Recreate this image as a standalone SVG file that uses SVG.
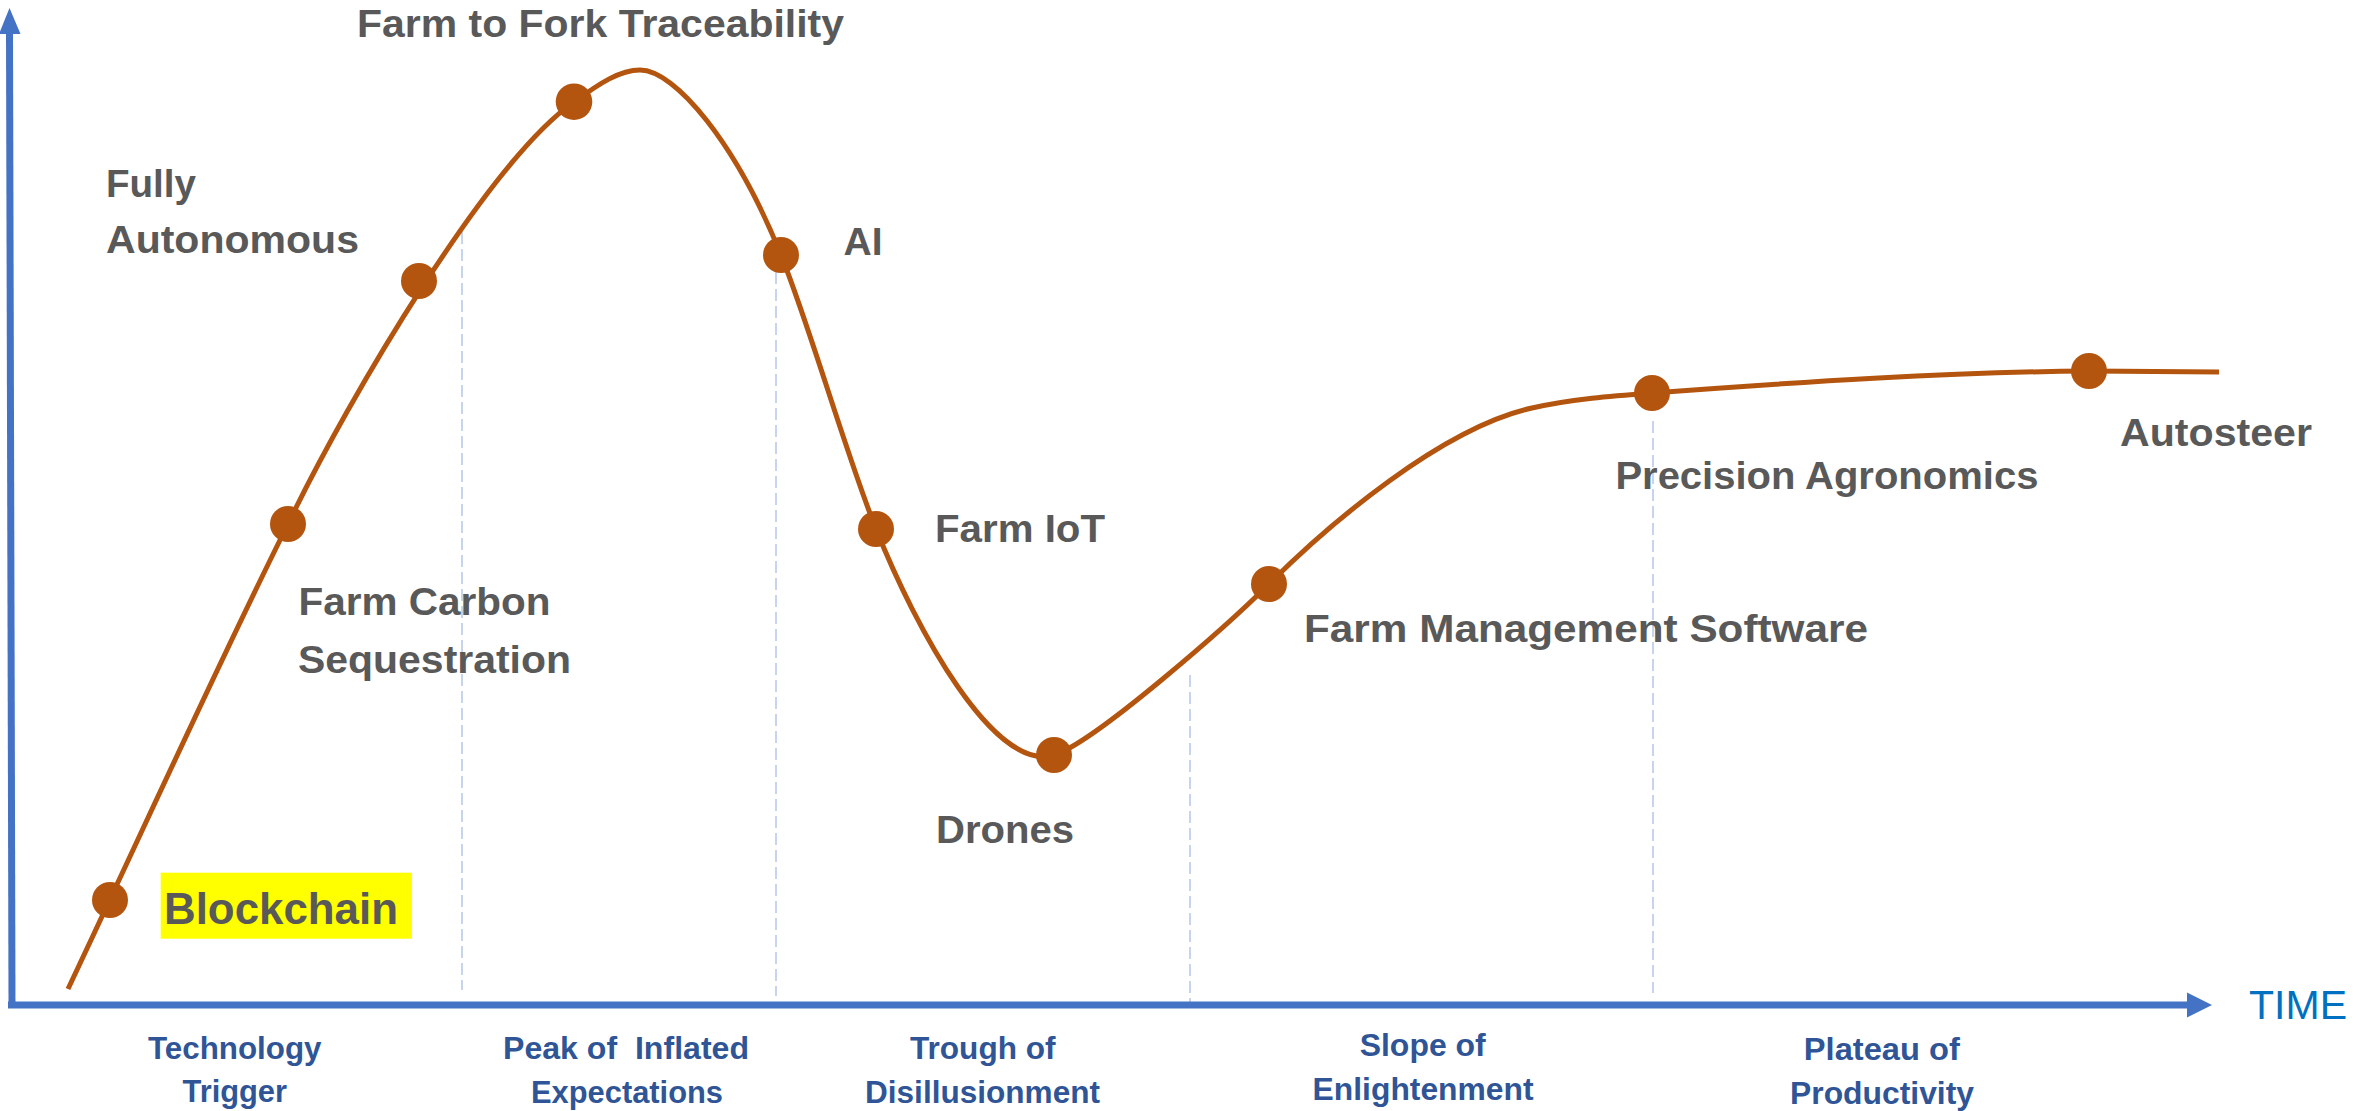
<svg xmlns="http://www.w3.org/2000/svg" width="2374" height="1111" viewBox="0 0 2374 1111">
<style>
.lbl{font-family:"Liberation Sans",Arial,sans-serif;font-weight:bold;font-size:39px;fill:#595959}
.big{font-size:45px}
.phase{font-family:"Liberation Sans",Arial,sans-serif;font-weight:bold;font-size:32px;fill:#2F5597}
.time{font-family:"Liberation Sans",Arial,sans-serif;font-size:40px;fill:#0070C0}
.dot{fill:#B4550F}
.curve{fill:none;stroke:#B4550F;stroke-width:5;stroke-linecap:butt}
.axis{fill:none;stroke:#4472C4;stroke-width:7}
.guide{fill:none;stroke:#B4C7E7;stroke-width:1.5;stroke-dasharray:12 5}
</style>
<rect width="2374" height="1111" fill="#FFFFFF"/>
<g id="guides">
<line class="guide" x1="462" y1="232" x2="462" y2="990"/>
<line class="guide" x1="776" y1="272" x2="776" y2="996"/>
<line class="guide" x1="1190" y1="675" x2="1190" y2="1003"/>
<line class="guide" x1="1653" y1="421" x2="1653" y2="993"/>
</g>
<g id="axes">
<path class="axis" d="M12,1005 L9.5,32"/>
<polygon fill="#4472C4" points="9.5,8 -1,34 20.5,34"/>
<path class="axis" d="M8,1005 L2190,1005"/>
<polygon fill="#4472C4" points="2212,1005 2187,992.5 2187,1017.5"/>
<text class="time" x="2249" y="1019" textLength="98" lengthAdjust="spacingAndGlyphs">TIME</text>
</g>
<g id="connectors">
<path class="curve" d="M68,989 C150,815 220,660 288,524 C350,395 490,160 574,102 C600,83 620,70 640,70 C675,70 736,143 781,255 C810,327 846,454 876,529 C916,629 994,773 1054,755 C1094,743 1229,624 1269,584 C1329,524 1442,428 1532,408 C1572,399 1612,396 1652,393 C1800,382 1950,372 2089,371 C2140,371 2180,371.5 2219,372"/>
</g>
<g id="node-blockchain">
<rect x="160.7" y="872.7" width="251.3" height="66" fill="#FFFF00"/>
<circle class="dot" cx="110" cy="900" r="18"/>
<text class="lbl big" x="164" y="923.6" textLength="234" lengthAdjust="spacingAndGlyphs">Blockchain</text>
</g>
<g id="node-farm-carbon">
<circle class="dot" cx="288" cy="524" r="18"/>
<text class="lbl" x="298.5" y="614.5" textLength="252" lengthAdjust="spacingAndGlyphs">Farm Carbon</text>
<text class="lbl" x="298" y="673" textLength="273" lengthAdjust="spacingAndGlyphs">Sequestration</text>
</g>
<g id="node-fully-autonomous">
<circle class="dot" cx="419" cy="281" r="18"/>
<text class="lbl" x="106" y="197" textLength="90" lengthAdjust="spacingAndGlyphs">Fully</text>
<text class="lbl" x="106" y="253" textLength="253" lengthAdjust="spacingAndGlyphs">Autonomous</text>
</g>
<g id="node-farm-to-fork">
<circle class="dot" cx="574" cy="101.7" r="18.3"/>
<text class="lbl" x="357" y="37" textLength="487" lengthAdjust="spacingAndGlyphs">Farm to Fork Traceability</text>
</g>
<g id="node-ai">
<circle class="dot" cx="781" cy="255" r="18"/>
<text class="lbl" x="843.5" y="255" textLength="39" lengthAdjust="spacingAndGlyphs">AI</text>
</g>
<g id="node-farm-iot">
<circle class="dot" cx="876" cy="529" r="18"/>
<text class="lbl" x="935" y="542" textLength="170" lengthAdjust="spacingAndGlyphs">Farm IoT</text>
</g>
<g id="node-drones">
<circle class="dot" cx="1054" cy="755" r="18"/>
<text class="lbl" x="936" y="843" textLength="138" lengthAdjust="spacingAndGlyphs">Drones</text>
</g>
<g id="node-fms">
<circle class="dot" cx="1269" cy="584" r="18"/>
<text class="lbl" x="1304" y="642" textLength="564" lengthAdjust="spacingAndGlyphs">Farm Management Software</text>
</g>
<g id="node-precision">
<circle class="dot" cx="1652" cy="393" r="18"/>
<text class="lbl" x="1615.4" y="489" textLength="423" lengthAdjust="spacingAndGlyphs">Precision Agronomics</text>
</g>
<g id="node-autosteer">
<circle class="dot" cx="2089" cy="371" r="18"/>
<text class="lbl" x="2120" y="446" textLength="192" lengthAdjust="spacingAndGlyphs">Autosteer</text>
</g>
<g id="phases">
<text class="phase" x="148" y="1059" textLength="173.5" lengthAdjust="spacingAndGlyphs">Technology</text>
<text class="phase" x="182.5" y="1102" textLength="104.5" lengthAdjust="spacingAndGlyphs">Trigger</text>
<text class="phase" x="503" y="1059" textLength="246" lengthAdjust="spacingAndGlyphs" xml:space="preserve">Peak of  Inflated</text>
<text class="phase" x="531" y="1103" textLength="192" lengthAdjust="spacingAndGlyphs">Expectations</text>
<text class="phase" x="910" y="1059" textLength="145.5" lengthAdjust="spacingAndGlyphs">Trough of</text>
<text class="phase" x="865" y="1103" textLength="235" lengthAdjust="spacingAndGlyphs">Disillusionment</text>
<text class="phase" x="1359.7" y="1056" textLength="126" lengthAdjust="spacingAndGlyphs">Slope of</text>
<text class="phase" x="1312.6" y="1100" textLength="221" lengthAdjust="spacingAndGlyphs">Enlightenment</text>
<text class="phase" x="1803.8" y="1060" textLength="156" lengthAdjust="spacingAndGlyphs">Plateau of</text>
<text class="phase" x="1790" y="1104" textLength="184" lengthAdjust="spacingAndGlyphs">Productivity</text>
</g>
</svg>
